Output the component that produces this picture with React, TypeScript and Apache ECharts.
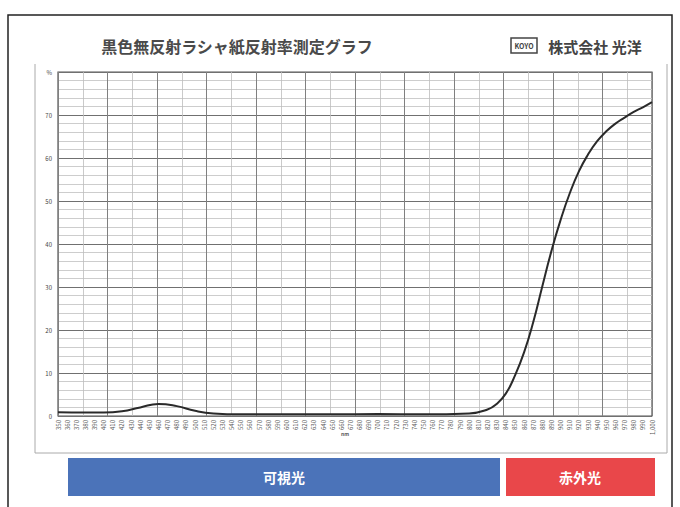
import React, { useEffect, useRef } from "react";
import * as echarts from "echarts";

const wavelengths = [350, 380, 400, 420, 440, 460, 480, 500, 520, 550, 600, 650, 700, 750, 800, 820, 830, 840, 850, 860, 870, 880, 890, 900, 910, 920, 930, 940, 950, 960, 970, 980, 990, 1000];
const reflectance = [0.9, 0.8, 0.8, 1.1, 2.0, 2.8, 2.3, 1.2, 0.6, 0.4, 0.4, 0.4, 0.45, 0.4, 0.6, 1.5, 2.8, 5.2, 9.4, 14.8, 21.8, 30.2, 38.4, 45.6, 51.8, 56.9, 60.8, 63.9, 66.2, 68.0, 69.4, 70.7, 71.8, 73];
const yTicks = [0, 10, 20, 30, 40, 50, 60, 70];
const title = "黒色無反射ラシャ紙反射率測定グラフ";
const company = "株式会社 光洋";
const bands = [
  { label: "可視光", color: "#4b73b9" },
  { label: "赤外光", color: "#e9474a" },
];

const FONT = "'Noto Sans CJK JP', 'Noto Sans', sans-serif";

export default function App() {
  const ref = useRef<HTMLDivElement>(null);
  useEffect(() => {
    if (!ref.current) return;
    const chart = echarts.init(ref.current, null, { renderer: "svg" });
    const data = wavelengths.map((w, i) => [w, reflectance[i]]);
    chart.setOption({
      animation: false,
      backgroundColor: "#ffffff",
      grid: { left: 58, right: 28, top: 72, bottom: 91, show: false },
      xAxis: [
        {
          type: "value",
          min: 350,
          max: 1000,
          interval: 10,
          axisLine: { show: false },
          axisTick: { show: false },
          splitLine: { show: false },
          axisLabel: { rotate: 90, fontSize: 6, color: "#555", margin: 4, fontFamily: FONT },
        },
        {
          type: "value",
          min: 0,
          max: 12,
          interval: 1,
          position: "top",
          axisLine: { show: false },
          axisTick: { show: false },
          axisLabel: { show: false },
          splitLine: { show: true, lineStyle: { color: "#808080", width: 1 } },
          minorTick: { show: false, splitNumber: 2 },
          minorSplitLine: { show: true, lineStyle: { color: "#bdbdbd", width: 0.8 } },
        },
      ],
      yAxis: {
        type: "value",
        min: 0,
        max: 80,
        interval: 10,
        axisLine: { show: false },
        axisTick: { show: false },
        axisLabel: {
          fontSize: 6,
          color: "#444",
          margin: 6,
          fontFamily: FONT,
          formatter: (v: number) => (yTicks.includes(v) ? String(v) : v === 80 ? "%" : ""),
        },
        splitLine: { show: true, lineStyle: { color: "#707070", width: 1 } },
        minorTick: { show: false, splitNumber: 5 },
        minorSplitLine: { show: true, lineStyle: { color: "#c0c0c0", width: 0.8 } },
      },
      series: [
        {
          type: "line",
          xAxisIndex: 0,
          data,
          smooth: true,
          showSymbol: false,
          lineStyle: { color: "#2a2a2a", width: 2 },
        },
      ],
      graphic: [
        { type: "rect", shape: { x: 8, y: 15, width: 664, height: 510 }, style: { fill: "none", stroke: "#222", lineWidth: 1.5 }, silent: true },
        { type: "polyline", shape: { points: [[35, 64], [35, 453], [667, 453], [667, 64]] }, style: { fill: "none", stroke: "#aaa", lineWidth: 1 }, silent: true },
        { type: "rect", shape: { x: 58, y: 72, width: 594, height: 344 }, style: { fill: "none", stroke: "#555", lineWidth: 1.2 }, silent: true },
        { type: "text", x: 237, y: 46, style: { text: title, font: `bold 16px ${FONT}`, fill: "#4a4a4a", align: "center", verticalAlign: "middle" } },
        { type: "rect", shape: { x: 511, y: 38, width: 26, height: 15 }, style: { fill: "#fff", stroke: "#444", lineWidth: 1.5 } },
        { type: "text", x: 524, y: 46, style: { text: "KOYO", font: `bold 7px ${FONT}`, fill: "#444", align: "center", verticalAlign: "middle" } },
        { type: "text", x: 595, y: 46, style: { text: company, font: `bold 15px ${FONT}`, fill: "#444", align: "center", verticalAlign: "middle" } },
        { type: "text", x: 345, y: 433, style: { text: "nm", font: `bold 5px ${FONT}`, fill: "#555", align: "center", verticalAlign: "middle" } },
        { type: "rect", shape: { x: 68, y: 458, width: 432, height: 38 }, style: { fill: bands[0].color } },
        { type: "text", x: 284, y: 477, style: { text: bands[0].label, font: `bold 14px ${FONT}`, fill: "#fff", align: "center", verticalAlign: "middle" } },
        { type: "rect", shape: { x: 506, y: 458, width: 149, height: 38 }, style: { fill: bands[1].color } },
        { type: "text", x: 580, y: 477, style: { text: bands[1].label, font: `bold 14px ${FONT}`, fill: "#fff", align: "center", verticalAlign: "middle" } },
      ],
    });
    return () => chart.dispose();
  }, []);
  return <div ref={ref} style={{ position: "fixed", left: 0, top: 0, width: 680, height: 507 }} />;
}
